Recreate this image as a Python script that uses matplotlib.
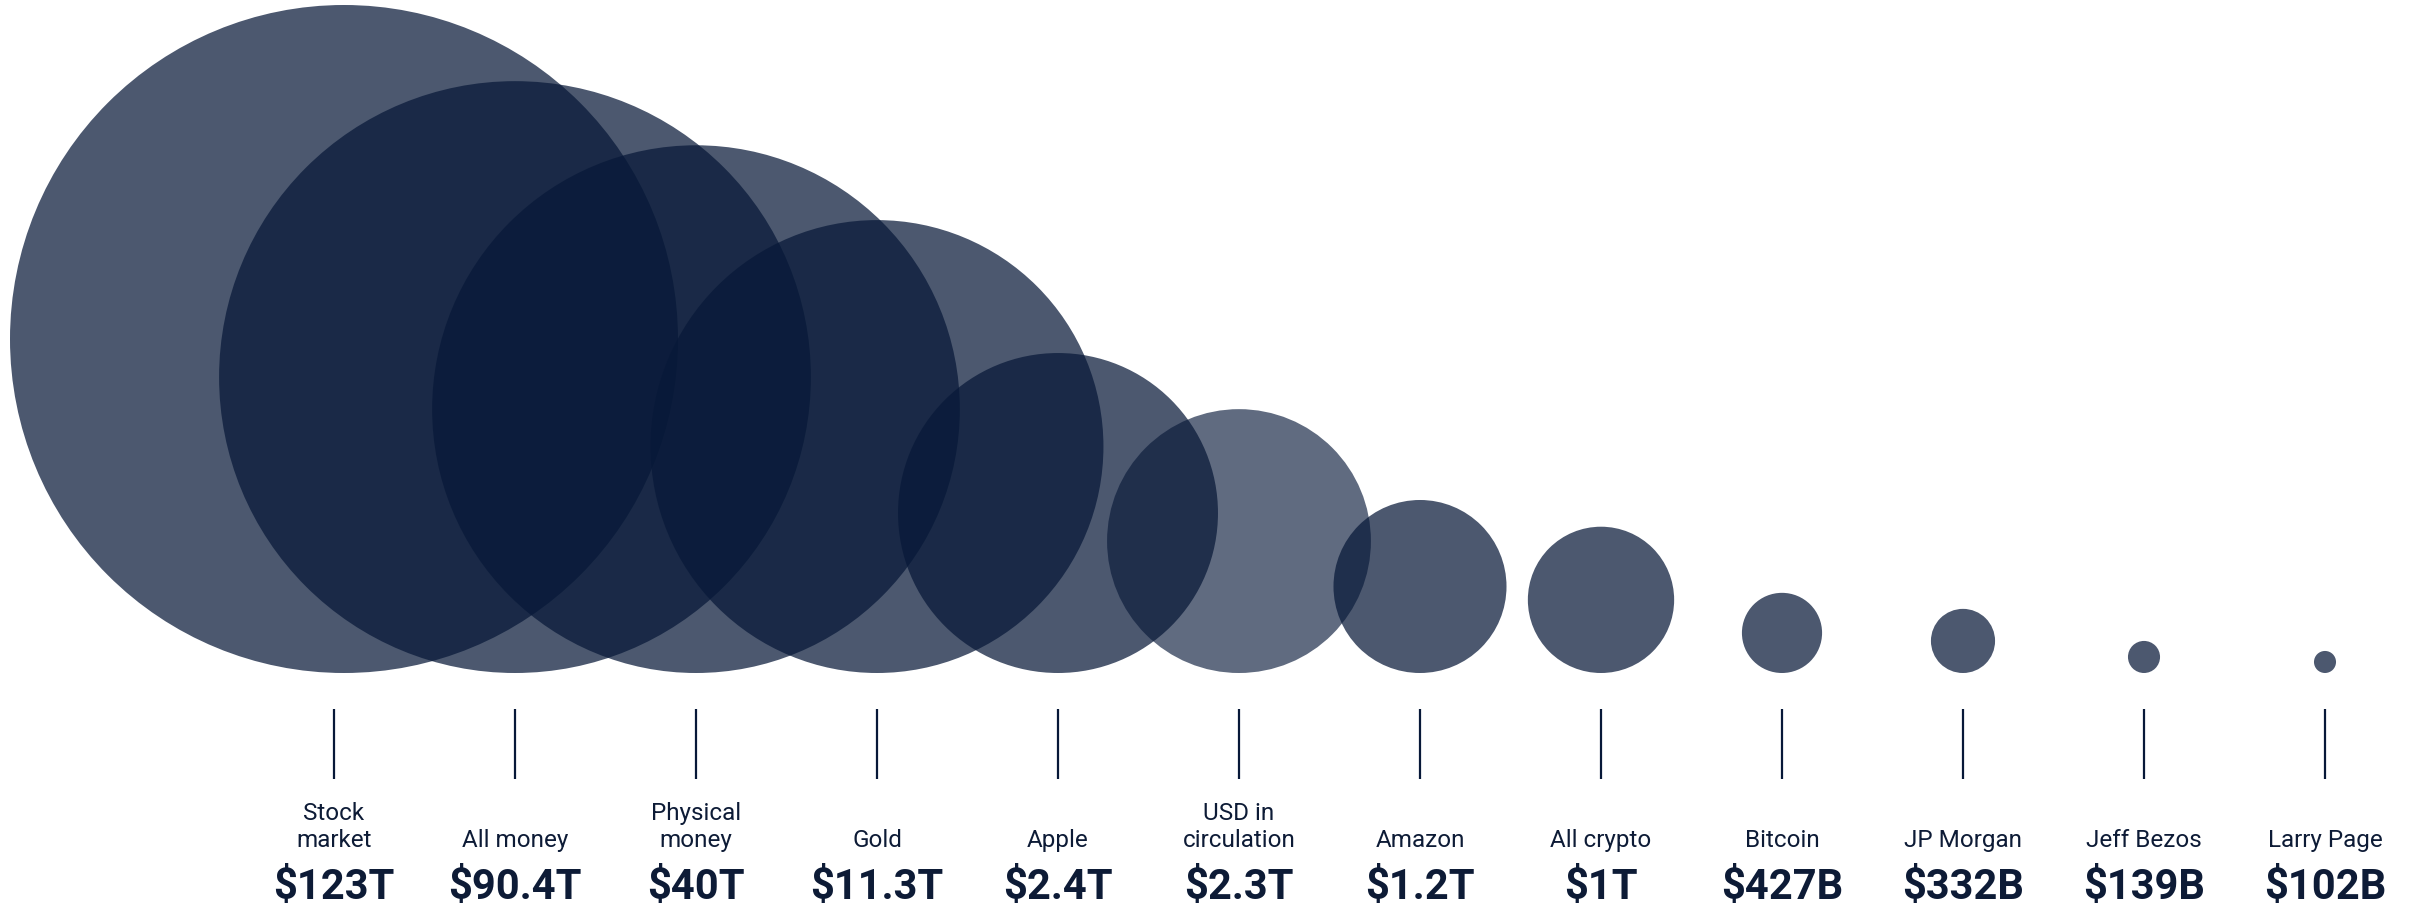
import numpy as np
import matplotlib.pyplot as plt
from matplotlib.patches import Circle

# ---------------------------------------------------------
# Data
# ---------------------------------------------------------
labels = ["Stock\nmarket", "All money", "Physical\nmoney", "Gold", "Apple",
          "USD in\ncirculation", "Amazon", "All crypto", "Bitcoin",
          "JP Morgan", "Jeff Bezos", "Larry Page"]
value_text = ["$123T", "$90.4T", "$40T", "$11.3T", "$2.4T", "$2.3T",
              "$1.2T", "$1T", "$427B", "$332B", "$139B", "$102B"]
# relative bubble size (radius, largest = 1), as drawn in the picture
bubble_size = [1.0, 0.886, 0.79, 0.678, 0.479, 0.395,
               0.259, 0.219, 0.12, 0.096, 0.048, 0.033]

# ---------------------------------------------------------
# Style
# ---------------------------------------------------------
NAVY = "#071838"
TEXT = "#0d1b36"
FONT = ["Liberation Sans Narrow", "Roboto", "DejaVu Sans"]

W, H = 2410, 911
fig = plt.figure(figsize=(W / 100, H / 100), dpi=100)
ax = fig.add_axes([0, 0, 1, 1])
ax.set_xlim(0, W)
ax.set_ylim(H, 0)
ax.axis("off")

n = len(labels)
x_first, x_step = 334, 181          # slot layout (pixels)
max_r = 334                          # radius of the biggest bubble
base_y = 673                         # bubbles sit on this line

for i in range(n):
    x = x_first + i * x_step
    r = bubble_size[i] * max_r
    cx = max(x, r + 10)
    alpha = 0.64 if labels[i].startswith("USD") else 0.72
    ax.add_patch(Circle((cx, base_y - r), r, facecolor=NAVY,
                        edgecolor="none", alpha=alpha))

    ax.plot([x, x], [709, 779], color=NAVY, linewidth=1.6,
            solid_capstyle="butt")
    ax.text(x, 847, labels[i], ha="center", va="baseline", fontsize=17.5,
            color=TEXT, family=FONT, linespacing=1.2, multialignment="center")
    ax.text(x, 899, value_text[i], ha="center", va="baseline", fontsize=30,
            fontweight="bold", color=TEXT, family=FONT)

fig.savefig("out.png", dpi=100, facecolor="white")
